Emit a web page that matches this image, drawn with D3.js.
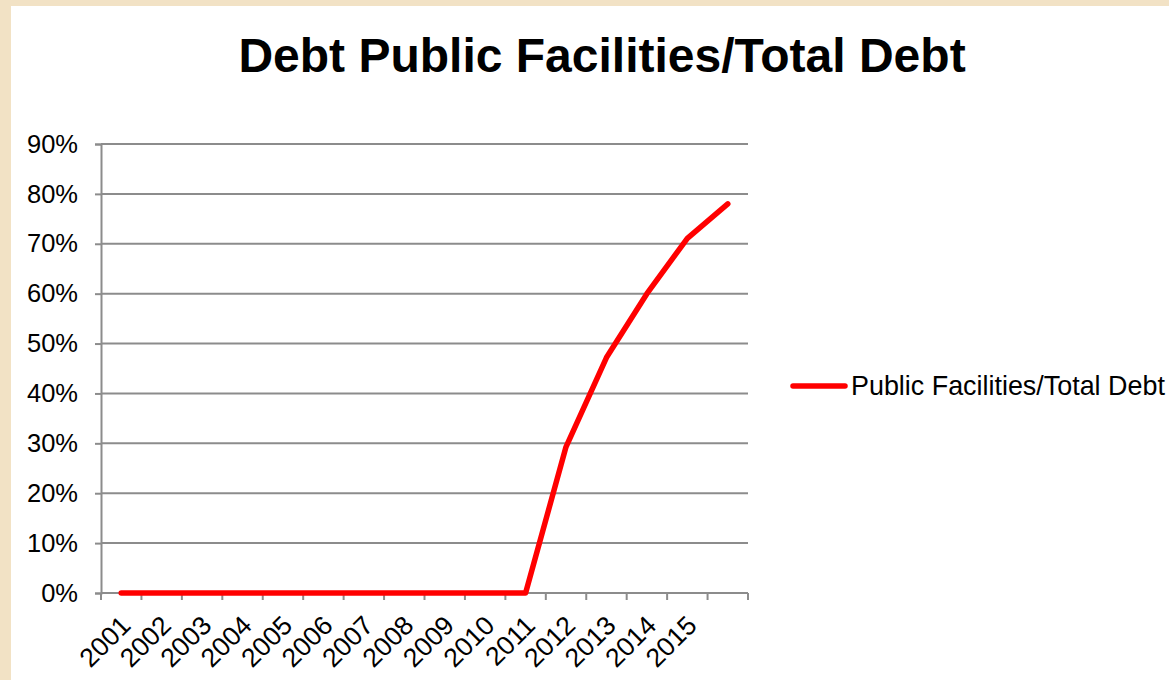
<!DOCTYPE html>
<html>
<head>
<meta charset="utf-8">
<script src="https://cdn.jsdelivr.net/npm/d3@7"></script>
<style>
  html, body { margin: 0; padding: 0; background: #f2e2c5; }
  svg { display: block; }
</style>
</head>
<body>
<svg id="chart" width="1169" height="680"></svg>
<script>
// Share of public-facilities debt in total debt, by year
const years = ["2001","2002","2003","2004","2005","2006","2007","2008","2009","2010","2011","2012","2013","2014","2015",""];
const shares = [0, 0, 0, 0, 0, 0, 0, 0, 0, 0, 0, 0.293, 0.472, 0.60, 0.711, 0.78];
const yTicks = [0, 0.1, 0.2, 0.3, 0.4, 0.5, 0.6, 0.7, 0.8, 0.9];
const seriesName = "Public Facilities/Total Debt";
const titleText = "Debt Public Facilities/Total Debt";

const svg = d3.select("#chart");
const font = "'Liberation Sans', Arial, sans-serif";

// page background and white chart panel
svg.append("rect").attr("x", 0).attr("y", 0).attr("width", 1169).attr("height", 680).attr("fill", "#f2e2c5");
svg.append("rect").attr("x", 11).attr("y", 6).attr("width", 1158).attr("height", 674).attr("fill", "#ffffff");

const plot = { left: 101, right: 748, top: 144, bottom: 593 };

const x = d3.scaleBand().domain(years.map((d, i) => i)).range([plot.left, plot.right]);
const y = d3.scaleLinear().domain([0, 0.9]).range([plot.bottom, plot.top]);

// title
svg.append("text")
  .attr("x", 602).attr("y", 72)
  .attr("text-anchor", "middle")
  .attr("font-family", font).attr("font-weight", "bold").attr("font-size", 48)
  .attr("fill", "#000")
  .text(titleText);

// horizontal gridlines
svg.append("g").selectAll("line").data(yTicks.slice(1)).join("line")
  .attr("x1", plot.left).attr("x2", plot.right)
  .attr("y1", d => y(d)).attr("y2", d => y(d))
  .attr("stroke", "#8c8c8c").attr("stroke-width", 2);

// y axis
const yAxis = svg.append("g").attr("transform", `translate(${plot.left},0)`)
  .call(d3.axisLeft(y).tickValues(yTicks).tickFormat(d3.format(".0%")).tickSizeOuter(0).tickSize(6).tickPadding(17));
yAxis.select(".domain").attr("stroke", "#8c8c8c").attr("stroke-width", 2);
yAxis.selectAll(".tick line").attr("stroke", "#8c8c8c").attr("stroke-width", 2);
yAxis.selectAll(".tick text").attr("font-family", font).attr("font-size", 25.5).attr("fill", "#000");

// x axis with tick marks at category boundaries
const xg = svg.append("g");
xg.append("line")
  .attr("x1", plot.left).attr("x2", plot.right)
  .attr("y1", plot.bottom).attr("y2", plot.bottom)
  .attr("stroke", "#8c8c8c").attr("stroke-width", 2);
const bounds = years.map((d, i) => x(i)).concat([x(years.length - 1) + x.bandwidth()]);
xg.selectAll("line.tk").data(bounds).join("line").attr("class", "tk")
  .attr("x1", d => d).attr("x2", d => d)
  .attr("y1", plot.bottom).attr("y2", plot.bottom + 7)
  .attr("stroke", "#8c8c8c").attr("stroke-width", 2);
xg.selectAll("text").data(years).join("text")
  .attr("transform", (d, i) => `translate(${x(i) + x.bandwidth() / 2 + 11},${plot.bottom + 34}) rotate(-45)`)
  .attr("text-anchor", "end")
  .attr("font-family", font).attr("font-size", 26.5).attr("fill", "#000")
  .text(d => d);

// series line
const line = d3.line().x((d, i) => x(i) + x.bandwidth() / 2).y(d => y(d));
svg.append("path").datum(shares)
  .attr("d", line)
  .attr("fill", "none").attr("stroke", "#ff0000").attr("stroke-width", 5.5)
  .attr("stroke-linejoin", "round").attr("stroke-linecap", "round");

// legend
const lg = svg.append("g").attr("transform", "translate(793,386)");
lg.append("line").attr("x1", 0).attr("x2", 52).attr("y1", 0).attr("y2", 0)
  .attr("stroke", "#ff0000").attr("stroke-width", 5.5).attr("stroke-linecap", "round");
lg.append("text").attr("x", 58).attr("y", 9)
  .attr("font-family", font).attr("font-size", 26.9).attr("fill", "#000")
  .text(seriesName);
</script>
</body>
</html>
